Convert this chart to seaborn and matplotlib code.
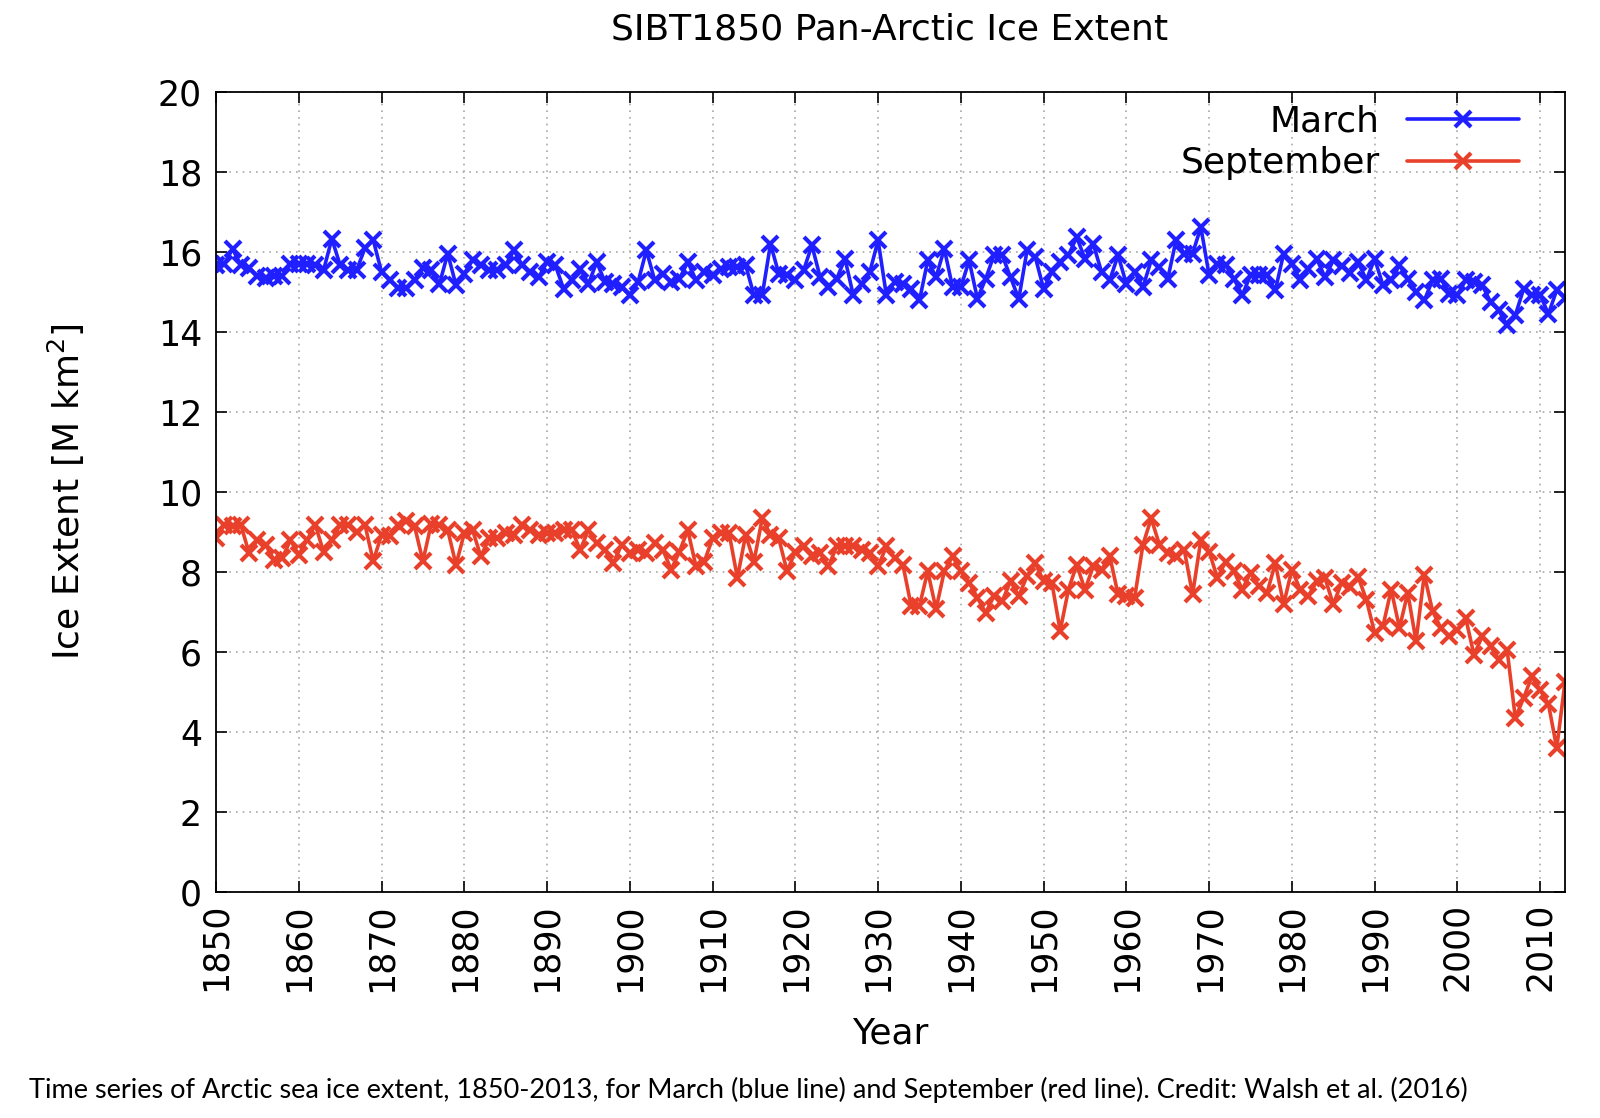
import numpy as np
import pandas as pd
import matplotlib
matplotlib.use("Agg")
import matplotlib.pyplot as plt
import seaborn as sns

years = list(range(1850, 2014))

march = [
    15.67, 15.70, 16.08, 15.67, 15.60, 15.40, 15.35, 15.40, 15.40, 15.70,  # 1850s
    15.70, 15.70, 15.67, 15.55, 16.33, 15.67, 15.55, 15.55, 16.10, 16.30,  # 1860s
    15.50, 15.30, 15.10, 15.10, 15.30, 15.60, 15.54, 15.20, 15.96, 15.17,  # 1870s
    15.46, 15.80, 15.67, 15.54, 15.54, 15.67, 16.04, 15.67, 15.50, 15.37,  # 1880s
    15.75, 15.67, 15.08, 15.30, 15.58, 15.20, 15.75, 15.25, 15.20, 15.12,  # 1890s
    14.92, 15.25, 16.04, 15.30, 15.46, 15.25, 15.33, 15.75, 15.30, 15.50,  # 1900s
    15.42, 15.58, 15.62, 15.62, 15.67, 14.92, 14.92, 16.20, 15.46, 15.42,  # 1910s
    15.30, 15.54, 16.17, 15.37, 15.12, 15.33, 15.83, 14.92, 15.20, 15.50,  # 1920s
    16.29, 14.92, 15.25, 15.20, 15.08, 14.79, 15.79, 15.37, 16.08, 15.12,  # 1930s
    15.12, 15.79, 14.83, 15.33, 15.92, 15.92, 15.37, 14.83, 16.04, 15.87,  # 1940s
    15.08, 15.50, 15.75, 15.92, 16.37, 15.83, 16.20, 15.50, 15.30, 15.92,  # 1950s
    15.20, 15.50, 15.12, 15.79, 15.62, 15.33, 16.29, 15.96, 15.96, 16.62,  # 1960s
    15.42, 15.70, 15.67, 15.33, 14.92, 15.42, 15.42, 15.42, 15.04, 15.96,  # 1970s
    15.70, 15.30, 15.58, 15.83, 15.37, 15.79, 15.65, 15.48, 15.75, 15.30,  # 1980s
    15.83, 15.17, 15.30, 15.67, 15.33, 15.00, 14.79, 15.30, 15.33, 14.96,  # 1990s
    14.92, 15.30, 15.25, 15.17, 14.75, 14.54, 14.17, 14.42, 15.08, 14.92,  # 2000s
    14.92, 14.45, 15.05, 14.85,                                            # 2010-2013
]

september = [
    8.85, 9.18, 9.14, 9.18, 8.47, 8.80, 8.68, 8.30, 8.35, 8.80,  # 1850s
    8.43, 8.80, 9.18, 8.50, 8.80, 9.18, 9.18, 9.00, 9.18, 8.27,  # 1860s
    8.93, 8.90, 9.18, 9.27, 9.14, 8.27, 9.20, 9.17, 9.05, 8.18,  # 1870s
    8.97, 9.05, 8.39, 8.84, 8.84, 8.97, 8.93, 9.17, 9.05, 8.93,  # 1880s
    8.97, 8.97, 9.05, 9.05, 8.55, 9.05, 8.72, 8.55, 8.22, 8.68,  # 1890s
    8.47, 8.55, 8.47, 8.72, 8.55, 8.06, 8.51, 9.05, 8.14, 8.26,  # 1900s
    8.84, 8.97, 8.97, 7.85, 8.93, 8.26, 9.34, 8.93, 8.84, 8.02,  # 1910s
    8.51, 8.64, 8.39, 8.47, 8.14, 8.64, 8.64, 8.64, 8.55, 8.47,  # 1920s
    8.14, 8.64, 8.35, 8.18, 7.15, 7.15, 8.02, 7.07, 8.02, 8.39,  # 1930s
    8.02, 7.73, 7.36, 6.98, 7.40, 7.27, 7.77, 7.40, 7.90, 8.22,  # 1940s
    7.77, 7.73, 6.53, 7.56, 8.18, 7.56, 8.14, 8.06, 8.39, 7.44,  # 1950s
    7.40, 7.36, 8.68, 9.34, 8.68, 8.47, 8.39, 8.55, 7.44, 8.80,  # 1960s
    8.51, 7.85, 8.26, 8.02, 7.56, 7.98, 7.64, 7.48, 8.22, 7.19,  # 1970s
    8.06, 7.56, 7.40, 7.77, 7.85, 7.19, 7.73, 7.62, 7.88, 7.31,  # 1980s
    6.48, 6.64, 7.56, 6.60, 7.48, 6.27, 7.93, 7.02, 6.60, 6.39,  # 1990s
    6.56, 6.85, 5.93, 6.39, 6.14, 5.81, 6.06, 4.35, 4.85, 5.39,  # 2000s
    5.05, 4.70, 3.60, 5.25,                                      # 2010-2013
]

xticks = list(range(1850, 2011, 10))
yticks = list(range(0, 21, 2))

title = "SIBT1850 Pan-Arctic Ice Extent"
caption = ("Time series of Arctic sea ice extent, 1850-2013, for March (blue line) "
           "and September (red line). Credit: Walsh et al. (2016)")

df = pd.DataFrame({"Year": years, "March": march, "September": september})

sns.set_theme(style="ticks")
plt.rcParams["font.family"] = ["DejaVu Sans"]
plt.rcParams["text.color"] = "black"
plt.rcParams["axes.labelcolor"] = "black"
plt.rcParams["xtick.color"] = "black"
plt.rcParams["ytick.color"] = "black"

fig = plt.figure(figsize=(16, 11.18), dpi=100)
ax = fig.add_axes([216 / 1600, 1 - 892 / 1118, (1565 - 216) / 1600, 800 / 1118])

blue = "#1f1fff"
red = "#e8402a"
common = dict(marker="x", markersize=12, linewidth=2.6, markeredgewidth=3.0)
sns.lineplot(data=df, x="Year", y="March", ax=ax, color=blue,
             markeredgecolor=blue, label="March", **common)
sns.lineplot(data=df, x="Year", y="September", ax=ax, color=red,
             markeredgecolor=red, label="September", **common)

ax.set_xlim(1850, 2013)
ax.set_ylim(0, 20)
ax.set_xticks(xticks)
ax.set_yticks(yticks)
ax.set_xticklabels([str(t) for t in xticks], rotation=90, fontsize=25, color="black")
ax.set_yticklabels([str(t) for t in yticks], fontsize=25, color="black")
ax.tick_params(direction="in", length=8, width=1.2, top=True, right=True,
               colors="black", pad=10)
ax.tick_params(axis="x", pad=8)
ax.grid(True, linestyle=(0, (1, 3)), color="#a8a8a8", linewidth=1.2)
for s in ax.spines.values():
    s.set_linewidth(1.3)
    s.set_color("black")

ax.set_xlabel("Year", fontsize=26, color="black")
ax.xaxis.label.set_va("center")
ax.xaxis.set_label_coords(0.5, (892 - 1034) / 800)
ax.set_ylabel("Ice Extent [M km$^2$]", fontsize=26, color="black")
ax.yaxis.label.set_va("center")
ax.yaxis.set_label_coords((66 - 216) / 1349, 0.5)

leg = ax.legend(loc="upper right", bbox_to_anchor=((1519 - 216) / 1349, (892 - 105) / 800),
                frameon=False, markerfirst=False, fontsize=26, handlelength=3.1,
                handletextpad=0.75, labelspacing=0.2, borderpad=0, borderaxespad=0)
for t in leg.get_texts():
    t.set_color("black")

fig.text(890 / 1600, 1 - 29 / 1118, title, ha="center", va="center", fontsize=26,
         color="black")
fig.text(29 / 1600, 1 - 1090 / 1118, caption, ha="left", va="center", fontsize=19.5,
         family=["Lato", "DejaVu Sans"], color="black")

fig.savefig("out.png", dpi=100, facecolor="white")
